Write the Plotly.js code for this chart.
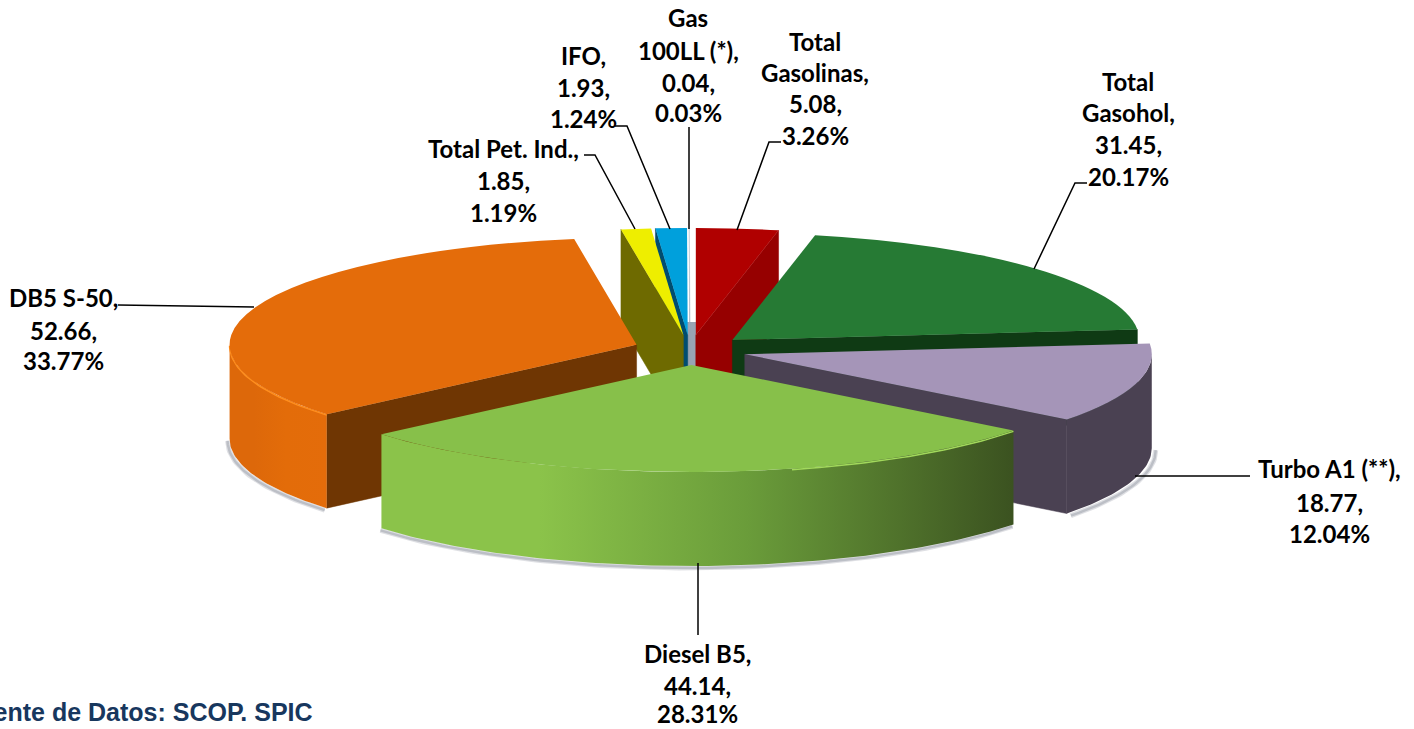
<!DOCTYPE html>
<html><head><meta charset="utf-8">
<script src="https://cdn.plot.ly/plotly-3.0.1.min.js"></script>
<style>html,body{margin:0;padding:0;background:#fff;overflow:hidden}#chart{width:1414px;height:729px}</style>
</head><body><div id="chart"></div>
<script>
// ---- data ----
const categories = ["Total Gasolinas","Total Gasohol","Turbo A1 (**)","Diesel B5","DB5 S-50","Total Pet. Ind.","IFO","Gas 100LL (*)"];
const seriesValues = [5.08,31.45,18.77,44.14,52.66,1.85,1.93,0.04];
// ---- styling ----
const topColors  = ["#b00000","#267a34","#a595b8","#87c04a","#e46c0a","#eeee00","#00a0dc","#dfeaf2"];
const sideColors = ["#960000","#0f3a14","#4a4152","#3b5220","#6f3603","#6e6a00","#004d70","#9aa5b5"];
const outerStart = ["#b00000","#1c5e28","#4a4152","#8bc34a","#dd680a","#eeee00","#00a0dc","#dfeaf2"];
const outerMid   = ["#b00000","#1c5e28","#4a4152","#6a9c3a","#e36c09","#eeee00","#00a0dc","#dfeaf2"];
const outerEnd   = ["#b00000","#1c5e28","#4a4152","#3b5220","#e46c0a","#eeee00","#00a0dc","#dfeaf2"];
const rimColors  = [null,null,null,"#a2d95c","#ff8f1f",null,null,null];
const rimSpan    = [0,0,0,38,110,0,0,0];
const shadowShift = [[0,0],[0,0],[4,2],[-1,2],[-2,2],[0,0],[0,0],[0,0]];
// ---- label layout: one line per row ----
const labelLines = [["Total","Gasolinas,"],["Total","Gasohol,"],["Turbo A1 (**),"],["Diesel B5,"],["DB5 S-50,"],["Total Pet. Ind.,"],["IFO,"],["Gas","100LL (*),"]];
const labelX = [815,1128,1329,697,63,503,583,688];
const labelY = [[41,72,103,135],[81,112,144,176],[468,502,533],[653,685,713],[297,330,360],[148,180,212],[55,87,118],[17,50,82,112]];
const leaders = ["M737 230L769 142L781 142","M1034 269L1075 183L1087 183","M1135 476L1250 476","M698 563L698 635","M118 305L254 307","M635 229L595 155L584 155","M670 229L627 126L615 126","M689 229L689 127"];
const sourceText = "Fuente de Datos: SCOP. SPIC";
const centreGap = "M683 322L696 322L696 366L683 366Z";
// ---- 3D projection of the pie ----
const CX=690, CY=350, RX=407, RY=107, PULL=0.14, DEPTH=94;
const total = seriesValues.reduce((a,b)=>a+b,0);
const rad = d=>d*Math.PI/180;
let acc=0;
const slices = seriesValues.map((v,i)=>{
  const s=acc/total*360; acc+=v; const e=acc/total*360; const m=(s+e)/2;
  return {i,s,e,m,ax:CX+PULL*RX*Math.sin(rad(m)),ay:CY-PULL*RY*Math.cos(rad(m))};
});
const pt=(sl,a,dz=0)=>[sl.ax+RX*Math.sin(rad(a)),sl.ay-RY*Math.cos(rad(a))+dz];
const arc=(sl,a0,a1,dz=0)=>{const out=[];const n=Math.max(2,Math.ceil(Math.abs(a1-a0)));for(let k=0;k<=n;k++)out.push(pt(sl,a0+(a1-a0)*k/n,dz));return out;};
const poly=(pts,extra)=>Object.assign({type:'scatter',mode:'lines',x:pts.map(p=>p[0]),y:pts.map(p=>p[1]),fill:'toself',hoverinfo:'skip',showlegend:false},extra);
const traces=[];
const order=[...slices].sort((a,b)=>Math.cos(rad(b.m))-Math.cos(rad(a.m)));
// soft shadow
order.forEach(sl=>{
  const a0=Math.max(sl.s,90),a1=Math.min(sl.e,270); if(a1<=a0)return;
  const [dx,dy]=shadowShift[sl.i]; if(!dx&&!dy)return;
  const p=arc(sl,a0,a1,DEPTH).map(q=>[q[0]+dx,q[1]+dy]);
  traces.push({type:'scatter',mode:'lines',x:p.map(q=>q[0]),y:p.map(q=>q[1]),line:{color:'rgba(110,115,130,0.22)',width:5},hoverinfo:'skip',showlegend:false});
  traces.push({type:'scatter',mode:'lines',x:p.map(q=>q[0]),y:p.map(q=>q[1]),line:{color:'rgba(110,115,130,0.3)',width:2.5},hoverinfo:'skip',showlegend:false});
});
// walls, back to front
order.forEach(sl=>{
  const c=sideColors[sl.i], apex=[sl.ax,sl.ay], apexB=[sl.ax,sl.ay+DEPTH];
  const radial=a=>{const t=pt(sl,a),b=pt(sl,a,DEPTH);traces.push(poly([apex,t,b,apexB,apex],{line:{color:c,width:0.5},fillcolor:c}));};
  if(Math.sin(rad(sl.s))<-1e-6) radial(sl.s);
  if(Math.sin(rad(sl.e))>1e-6) radial(sl.e);
  const a0=Math.max(sl.s,90),a1=Math.min(sl.e,270);
  if(a1>a0){
    const p=arc(sl,a0,a1).concat(arc(sl,a1,a0,DEPTH)); p.push(p[0]);
    traces.push(poly(p,{line:{color:outerMid[sl.i],width:0},fillgradient:{type:'horizontal',colorscale:[[0,outerStart[sl.i]],[0.25,outerStart[sl.i]],[0.58,outerMid[sl.i]],[1,outerEnd[sl.i]]]}}));
    if(rimColors[sl.i]){const r=arc(sl,a0,Math.min(a1,a0+rimSpan[sl.i]),1);traces.push({type:'scatter',mode:'lines',x:r.map(q=>q[0]),y:r.map(q=>q[1]),line:{color:rimColors[sl.i],width:1.5},hoverinfo:'skip',showlegend:false});}
  }
});
// top faces: a real pie, flattened into the ellipse after drawing
traces.push({type:'pie',labels:categories,values:seriesValues,sort:false,direction:'clockwise',rotation:0,pull:PULL,textinfo:'none',hoverinfo:'none',
  marker:{colors:topColors,line:{width:0}},showlegend:false,domain:{x:[0,1],y:[0,1]}});
// labels
const LABEL_FONT={family:'Lato, "Open Sans", sans-serif',size:24,color:'#000'};
const annotations=[];
categories.forEach((c,i)=>{
  const pct=(seriesValues[i]/total*100).toFixed(2)+'%';
  const lines=labelLines[i].concat([seriesValues[i].toFixed(2)+',',pct]);
  lines.forEach((t,k)=>annotations.push({xref:'x',yref:'y',x:labelX[i],y:labelY[i][k],text:'<b>'+t+'</b>',showarrow:false,font:LABEL_FONT,xanchor:'center',yanchor:'middle'}));
});
annotations.push({xref:'x',yref:'y',x:315,y:712,text:'<b>'+sourceText+'</b>',showarrow:false,xanchor:'right',yanchor:'middle',font:{family:'"Liberation Sans",Arial,sans-serif',size:25,color:'#17375e'}});
const shapes=leaders.map(path=>({type:'path',path,xref:'x',yref:'y',line:{color:'#000',width:1.5},layer:'above'}));
shapes.push({type:'path',path:centreGap,xref:'x',yref:'y',fillcolor:'#98a4b4',line:{width:0},layer:'below'});
const layout={width:1414,height:729,margin:{l:0,r:0,t:0,b:0},paper_bgcolor:'#fff',plot_bgcolor:'#fff',showlegend:false,
  xaxis:{range:[0,1414],visible:false,fixedrange:true},yaxis:{range:[729,0],visible:false,fixedrange:true},
  annotations,shapes};
const gd=document.getElementById('chart');
function flatten(){
  const cd=gd.calcdata.find(c=>c[0].trace.type==='pie'); const c0=cd[0];
  const layer=gd.querySelector('.pielayer');
  if(layer) layer.setAttribute('transform',`translate(${CX},${CY}) scale(${RX/c0.r},${RY/c0.r}) translate(${-c0.cx},${-c0.cy})`);
}
Plotly.newPlot(gd,traces,layout,{displayModeBar:false,staticPlot:true}).then(flatten);
</script></body></html>
